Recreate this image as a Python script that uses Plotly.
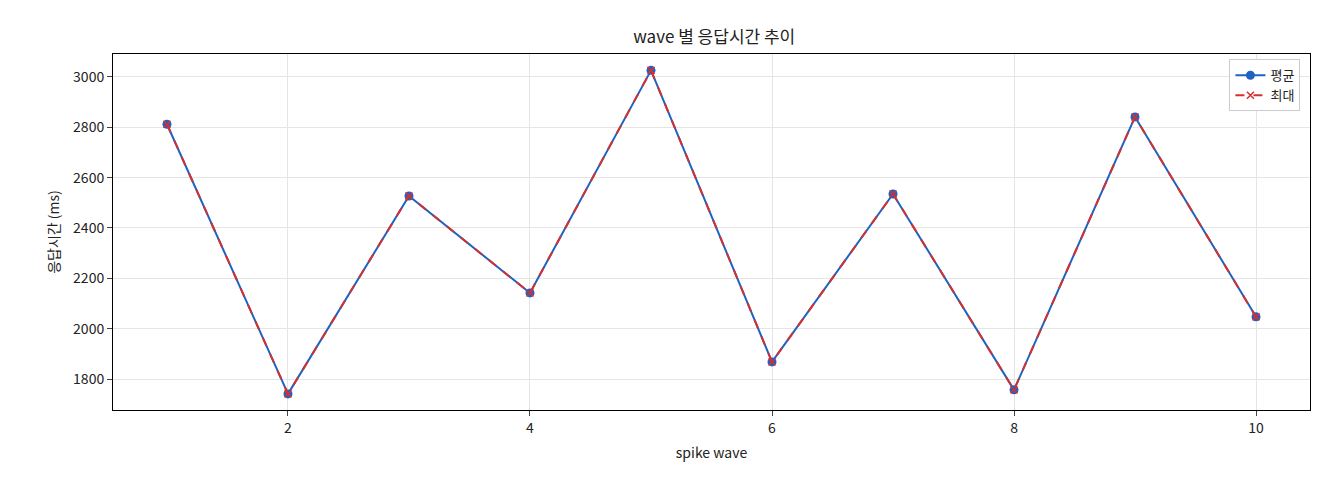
import plotly.graph_objects as go

waves = [1, 2, 3, 4, 5, 6, 7, 8, 9, 10]
avg_ms = [2812, 1741, 2527, 2142, 3026, 1868, 2535, 1757, 2841, 2047]
max_ms = [2812, 1741, 2527, 2142, 3026, 1868, 2535, 1757, 2841, 2047]

font = "Noto Sans CJK KR, Noto Sans, sans-serif"

fig = go.Figure()
fig.add_trace(go.Scatter(x=waves, y=avg_ms, name="평균", mode="lines+markers",
                         line=dict(color="#1f62c4", width=2),
                         marker=dict(symbol="circle", size=9, color="#1f62c4")))
fig.add_trace(go.Scatter(x=waves, y=max_ms, name="최대", mode="lines+markers",
                         line=dict(color="#d62f2f", width=2, dash="dash"),
                         marker=dict(symbol="x-thin", size=7,
                                     line=dict(color="#d62f2f", width=1.5))))

fig.update_layout(
    width=1320, height=480,
    margin=dict(l=105, r=18, t=46, b=78, autoexpand=False),
    paper_bgcolor="white", plot_bgcolor="white",
    font=dict(family=font, size=14, color="#222"),
    title=dict(text="wave 별 응답시간 추이", x=0.535, xanchor="center", y=0.94,
               yanchor="middle", font=dict(size=17)),
    showlegend=True,
    legend=dict(x=0.992, y=0.985, xanchor="right", yanchor="top",
                bordercolor="#ccc", borderwidth=1, bgcolor="white",
                font=dict(size=13)),
)
fig.update_xaxes(range=[0.554, 10.446], tickvals=[2, 4, 6, 8, 10],
                 title_text="spike wave", title_font_size=14, title_standoff=12,
                 automargin=False, showgrid=True, gridcolor="#e5e5e5",
                 showline=True, linecolor="black", mirror=True, ticks="outside",
                 zeroline=False)
fig.update_yaxes(range=[1677, 3091], dtick=200, title_text="응답시간 (ms)",
                 title_font_size=14, title_standoff=10, automargin=False,
                 showgrid=True, gridcolor="#e5e5e5",
                 showline=True, linecolor="black", mirror=True, ticks="outside",
                 zeroline=False)

fig.write_html("out.html")
